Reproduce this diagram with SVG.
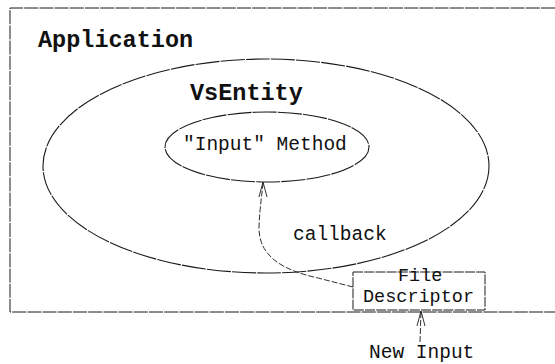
<svg xmlns="http://www.w3.org/2000/svg" width="555" height="364" viewBox="0 0 555 364">
  <style>
    .frame { fill: none; stroke: #1a1a1a; stroke-width: 1; stroke-dasharray: 14 1.2; }
    .oval { fill: none; stroke: #1a1a1a; stroke-width: 1.1; stroke-dasharray: 24 1.2; }
    .box { fill: #fff; stroke: #1a1a1a; stroke-width: 1; stroke-dasharray: 10 1.2; }
    .conn { fill: none; stroke: #1a1a1a; stroke-width: 0.9; stroke-dasharray: 6 2; }
    .head { fill: none; stroke: #1a1a1a; stroke-width: 0.9; }
    .title { font-family: "Liberation Mono", "Courier New", monospace; font-weight: bold; font-size: 23.5px; fill: #111; }
    .label { font-family: "Liberation Mono", "Courier New", monospace; font-size: 19.5px; fill: #111; }
    .small { font-family: "Liberation Mono", "Courier New", monospace; font-size: 18.5px; fill: #111; }
  </style>

  <!-- application frame: open on the right side -->
  <g id="application">
    <path class="frame" d="M555 8 L10 8 L10 312 L555 312"/>
    <text class="title" x="38" y="47">Application</text>
  </g>

  <g id="vsentity">
    <ellipse class="oval" cx="266" cy="166" rx="223" ry="107"/>
    <text class="title" x="190" y="100">VsEntity</text>
  </g>

  <g id="input-method">
    <ellipse class="oval" cx="267" cy="147" rx="102" ry="35"/>
    <text class="label" x="183" y="150">"Input" Method</text>
  </g>

  <g id="file-descriptor">
    <rect class="box" x="353" y="272" width="132" height="38"/>
    <text class="small" x="398" y="281">File</text>
    <text class="small" x="363" y="302">Descriptor</text>
  </g>

  <g id="new-input">
    <text class="label" x="369" y="358">New Input</text>
  </g>

  <g id="connectors">
    <!-- callback from the file descriptor to the input method -->
    <path class="conn" d="M353 287 L318 278 C282 270 258 256 259 226 C260 205 262 195 263 183"/>
    <path class="head" d="M259 197 L263 182 L267 197"/>
    <text class="label" x="293" y="240">callback</text>
    <!-- new input arriving at the file descriptor -->
    <path class="conn" d="M420 342 L421 312"/>
    <path class="head" d="M417 326 L421 311 L425 326"/>
  </g>
</svg>
